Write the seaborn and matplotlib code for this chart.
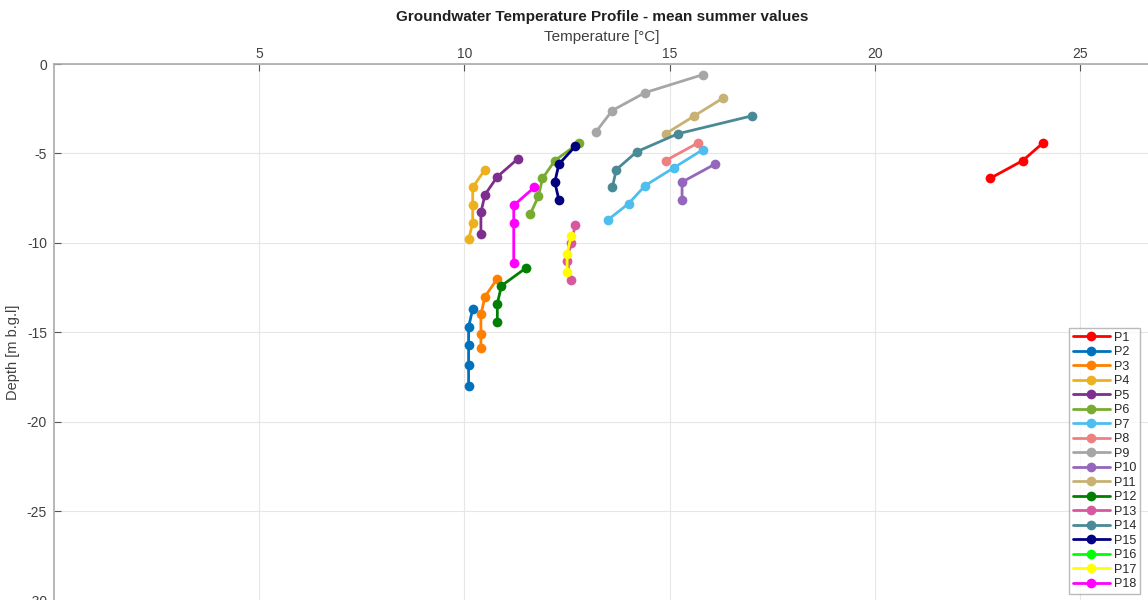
import matplotlib
matplotlib.use("Agg")
import matplotlib.pyplot as plt
import seaborn as sns

# mean summer temperature (degC) and depth (m b.g.l.) for each profile
P1_temp = [24.1, 23.6, 22.8]
P1_depth = [-4.4, -5.4, -6.4]
P2_temp = [10.2, 10.1, 10.1, 10.1, 10.1]
P2_depth = [-13.7, -14.7, -15.7, -16.8, -18.0]
P3_temp = [10.8, 10.5, 10.4, 10.4, 10.4]
P3_depth = [-12.0, -13.0, -14.0, -15.1, -15.9]
P4_temp = [10.1, 10.2, 10.2, 10.2, 10.5]
P4_depth = [-9.8, -8.9, -7.9, -6.9, -5.9]
P5_temp = [10.4, 10.4, 10.5, 10.8, 11.3]
P5_depth = [-9.5, -8.3, -7.3, -6.3, -5.3]
P6_temp = [11.6, 11.8, 11.9, 12.2, 12.8]
P6_depth = [-8.4, -7.4, -6.4, -5.4, -4.4]
P7_temp = [13.5, 14.0, 14.4, 15.1, 15.8]
P7_depth = [-8.7, -7.8, -6.8, -5.8, -4.8]
P8_temp = [14.9, 15.7]
P8_depth = [-5.4, -4.4]
P9_temp = [13.2, 13.6, 14.4, 15.8]
P9_depth = [-3.8, -2.6, -1.6, -0.6]
P10_temp = [15.3, 15.3, 16.1]
P10_depth = [-7.6, -6.6, -5.6]
P11_temp = [14.9, 15.6, 16.3]
P11_depth = [-3.9, -2.9, -1.9]
P12_temp = [11.5, 10.9, 10.8, 10.8]
P12_depth = [-11.4, -12.4, -13.4, -14.4]
P13_temp = [12.7, 12.6, 12.5, 12.6]
P13_depth = [-9.0, -10.0, -11.0, -12.1]
P14_temp = [13.6, 13.7, 14.2, 15.2, 17.0]
P14_depth = [-6.9, -5.9, -4.9, -3.9, -2.9]
P15_temp = [12.3, 12.2, 12.3, 12.7]
P15_depth = [-7.6, -6.6, -5.6, -4.6]
P16_temp = []
P16_depth = []
P17_temp = [12.6, 12.5, 12.5]
P17_depth = [-9.6, -10.6, -11.6]
P18_temp = [11.7, 11.2, 11.2, 11.2]
P18_depth = [-6.9, -7.9, -8.9, -11.1]

profiles = {
    'P1': (P1_temp, P1_depth, '#FF0000'),
    'P2': (P2_temp, P2_depth, '#0072BD'),
    'P3': (P3_temp, P3_depth, '#FF8000'),
    'P4': (P4_temp, P4_depth, '#EDB120'),
    'P5': (P5_temp, P5_depth, '#7E2F8E'),
    'P6': (P6_temp, P6_depth, '#77AC30'),
    'P7': (P7_temp, P7_depth, '#4DBEEE'),
    'P8': (P8_temp, P8_depth, '#F08080'),
    'P9': (P9_temp, P9_depth, '#A6A6A6'),
    'P10': (P10_temp, P10_depth, '#9467BD'),
    'P11': (P11_temp, P11_depth, '#C8B273'),
    'P12': (P12_temp, P12_depth, '#008000'),
    'P13': (P13_temp, P13_depth, '#D8589F'),
    'P14': (P14_temp, P14_depth, '#4A8A96'),
    'P15': (P15_temp, P15_depth, '#000080'),
    'P16': (P16_temp, P16_depth, '#00FF00'),
    'P17': (P17_temp, P17_depth, '#FFFF00'),
    'P18': (P18_temp, P18_depth, '#FF00FF'),
}

sns.set_style("white")
plt.rcParams['font.family'] = ['Liberation Sans', 'DejaVu Sans']
plt.rcParams['axes.unicode_minus'] = False

fig = plt.figure(figsize=(11.48, 6.0), dpi=100)
# axes runs a little past the right and bottom edge of the figure
ax = fig.add_axes([54 / 1148, -40 / 600, 1096 / 1148, 576 / 600])

for name, (temp, depth, col) in profiles.items():
    if len(temp) == 0:
        # no data for this profile, legend entry only
        ax.plot([], [], '-o', color=col, lw=2, ms=7, mew=0, label=name)
        continue
    sns.lineplot(x=temp, y=depth, sort=False, estimator=None, marker='o',
                 color=col, linewidth=2, markersize=7, markeredgewidth=0,
                 label=name, ax=ax)

ax.set_xlim(0, 26.7)
ax.set_ylim(-32.2, 0)
ax.set_xticks([5, 10, 15, 20, 25])
ax.set_yticks([0, -5, -10, -15, -20, -25, -30])
ax.xaxis.tick_top()
ax.xaxis.set_label_position('top')
ax.tick_params(direction='in', length=5, colors='#555555', labelcolor='#404040',
               labelsize=10, top=True, left=True, bottom=False, right=False,
               pad=5)
ax.tick_params(axis='x', pad=2)
ax.grid(True, color='#E6E6E6', linewidth=0.8)
for side in ['top', 'left']:
    ax.spines[side].set_color('#AAAAAA')
    ax.spines[side].set_linewidth(1.2)
for side in ['right', 'bottom']:
    ax.spines[side].set_visible(False)

ax.set_xlabel('Temperature [°C]', fontsize=11, color='#404040', labelpad=4.5)
ax.set_ylabel('Depth [m b.g.l]', fontsize=10.5, color='#404040', labelpad=5)
ax.set_title('Groundwater Temperature Profile - mean summer values',
             fontsize=11, fontweight='bold', color='#202020', pad=31)

leg = ax.legend(loc='lower right', bbox_to_anchor=(1140 / 1148, 6 / 600),
                bbox_transform=fig.transFigure, fontsize=9, frameon=True,
                fancybox=False, handlelength=3, labelspacing=0.2,
                borderpad=0.3, handletextpad=0.3, borderaxespad=0)
leg.get_frame().set_edgecolor('#AAAAAA')
leg.get_frame().set_linewidth(1.0)

fig.savefig('out.png', dpi=100)
